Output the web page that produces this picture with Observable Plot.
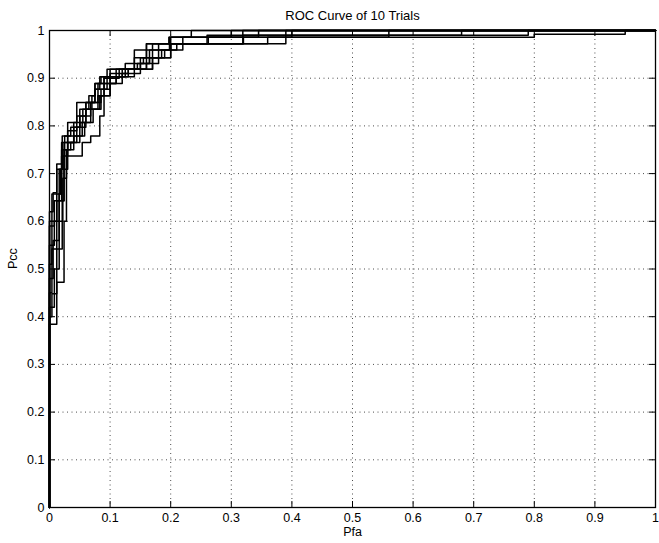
<!DOCTYPE html>
<html>
<head>
<meta charset="utf-8">
<script src="https://cdn.jsdelivr.net/npm/d3@7"></script>
<script src="https://cdn.jsdelivr.net/npm/@observablehq/plot@0.6"></script>
<style>
  html, body { margin: 0; padding: 0; background: #fff; }
  #chart { width: 659px; height: 543px; overflow: hidden; }
</style>
</head>
<body>
<div id="chart"></div>
<script>
// ---- Data ----
const title = "ROC Curve of 10 Trials";
const xLabel = "Pfa";
const yLabel = "Pcc";
const xTicks = [0, 0.1, 0.2, 0.3, 0.4, 0.5, 0.6, 0.7, 0.8, 0.9, 1];
const yTicks = [0, 0.1, 0.2, 0.3, 0.4, 0.5, 0.6, 0.7, 0.8, 0.9, 1];
const xTickLabels = ["0", "0.1", "0.2", "0.3", "0.4", "0.5", "0.6", "0.7", "0.8", "0.9", "1"];
const yTickLabels = ["0", "0.1", "0.2", "0.3", "0.4", "0.5", "0.6", "0.7", "0.8", "0.9", "1"];

// Each trial: step points [Pfa, Pcc] (Pcc jumps to the value at that Pfa)
const trial1 = [[0,0],[0,0.384],[0.012,0.472],[0.024,0.60],[0.028,0.737],[0.054,0.765],[0.068,0.779],[0.083,0.821],[0.09,0.877],[0.1,0.903],[0.125,0.919],[0.15,0.931],[0.165,0.959],[0.2,0.972],[0.39,1],[1,1]];
const trial2 = [[0,0],[0,0.40],[0.004,0.448],[0.012,0.542],[0.021,0.643],[0.024,0.709],[0.03,0.765],[0.045,0.779],[0.054,0.807],[0.068,0.835],[0.083,0.863],[0.1,0.889],[0.11,0.903],[0.14,0.919],[0.17,0.943],[0.2,0.959],[0.22,0.972],[0.32,0.986],[0.345,1],[1,1]];
const trial3 = [[0,0],[0,0.60],[0.004,0.657],[0.012,0.709],[0.021,0.779],[0.03,0.807],[0.045,0.849],[0.07,0.863],[0.075,0.877],[0.083,0.903],[0.095,0.919],[0.15,0.931],[0.16,0.972],[0.197,0.986],[0.234,1],[1,1]];
const trial4 = [[0,0],[0,0.51],[0.004,0.60],[0.012,0.657],[0.018,0.709],[0.024,0.765],[0.04,0.797],[0.05,0.821],[0.06,0.849],[0.075,0.889],[0.09,0.903],[0.11,0.919],[0.14,0.931],[0.155,0.943],[0.17,0.959],[0.2,0.972],[0.262,0.986],[0.3,1],[1,1]];
const trial5 = [[0,0],[0,0.45],[0.004,0.542],[0.012,0.60],[0.016,0.657],[0.02,0.709],[0.024,0.737],[0.03,0.779],[0.045,0.797],[0.06,0.821],[0.068,0.849],[0.085,0.877],[0.095,0.903],[0.12,0.919],[0.16,0.931],[0.165,0.943],[0.185,0.959],[0.21,0.972],[0.36,0.986],[0.56,1],[1,1]];
const trial6 = [[0,0],[0,0.59],[0.008,0.643],[0.016,0.709],[0.02,0.75],[0.03,0.765],[0.04,0.807],[0.055,0.835],[0.07,0.849],[0.08,0.889],[0.1,0.91],[0.13,0.919],[0.14,0.943],[0.16,0.972],[0.319,0.99],[0.68,1],[1,1]];
const trial7 = [[0,0],[0,0.55],[0.008,0.60],[0.012,0.643],[0.02,0.737],[0.025,0.779],[0.035,0.797],[0.05,0.835],[0.065,0.863],[0.075,0.889],[0.085,0.903],[0.1,0.919],[0.125,0.931],[0.14,0.959],[0.17,0.972],[0.2,0.986],[0.4,1],[1,1]];
const trial8 = [[0,0],[0,0.48],[0.006,0.56],[0.016,0.643],[0.024,0.75],[0.035,0.765],[0.05,0.807],[0.06,0.835],[0.08,0.863],[0.09,0.889],[0.11,0.903],[0.13,0.919],[0.16,0.931],[0.18,0.943],[0.2,0.972],[0.26,0.99],[0.79,1],[1,1]];
const trial9 = [[0,0],[0,0.62],[0.006,0.66],[0.012,0.72],[0.02,0.765],[0.03,0.79],[0.045,0.821],[0.06,0.849],[0.075,0.877],[0.09,0.9],[0.115,0.919],[0.145,0.931],[0.15,0.943],[0.18,0.972],[0.22,0.986],[0.8,0.992],[0.95,1],[1,1]];
const trial10 = [[0,0],[0,0.42],[0.008,0.50],[0.016,0.60],[0.022,0.69],[0.028,0.75],[0.04,0.779],[0.058,0.807],[0.072,0.835],[0.085,0.863],[0.1,0.889],[0.12,0.91],[0.15,0.919],[0.17,0.943],[0.19,0.959],[0.198,0.986],[0.319,1],[1,1]];

const trials = [trial1, trial2, trial3, trial4, trial5, trial6, trial7, trial8, trial9, trial10];
const rows = trials.flatMap((t, i) => t.map(([x, y]) => ({trial: i + 1, x, y})));

// ---- Layout ----
const W = 659, H = 543;
const mL = 49, mR = 4, mT = 30, mB = 36;
const innerW = W - mL - mR, innerH = H - mT - mB;
const tickLen = 6;
const gridVals = xTicks.slice(1, -1);
const gridValsY = yTicks.slice(1, -1);

const chart = Plot.plot({
  width: W,
  height: H,
  marginLeft: mL,
  marginRight: mR,
  marginTop: mT,
  marginBottom: mB,
  style: {fontFamily: "'Liberation Sans', Arial, Helvetica, sans-serif", fontSize: "12.5px", color: "black", background: "white"},
  x: {domain: [0, 1]},
  y: {domain: [0, 1]},
  marks: [
    // dotted grid
    Plot.ruleX(gridVals, {x: d => d, stroke: "black", strokeWidth: 1, strokeDasharray: "1,3.5", strokeOpacity: 0.7}),
    Plot.ruleY(gridValsY, {y: d => d, stroke: "black", strokeWidth: 1, strokeDasharray: "1,3.5", strokeOpacity: 0.7}),
    // ROC curves
    Plot.line(rows, {x: "x", y: "y", z: "trial", curve: "step-after", stroke: "black", strokeWidth: 1.5}),
    // frame
    Plot.frame({stroke: "black", strokeWidth: 1.3}),
    // inward ticks on all four sides
    Plot.ruleX(xTicks, {x: d => d, insetTop: innerH - tickLen, stroke: "black"}),
    Plot.ruleX(xTicks, {x: d => d, insetBottom: innerH - tickLen, stroke: "black"}),
    Plot.ruleY(yTicks, {y: d => d, insetRight: innerW - tickLen, stroke: "black"}),
    Plot.ruleY(yTicks, {y: d => d, insetLeft: innerW - tickLen, stroke: "black"}),
    // tick labels
    Plot.axisX({ticks: xTicks, tickSize: 0, tickPadding: 6, tickFormat: (d) => xTickLabels[xTicks.indexOf(d)], label: null, fontSize: 12.5}),
    Plot.axisY({ticks: yTicks, tickSize: 0, tickPadding: 5, tickFormat: (d) => yTickLabels[yTicks.indexOf(d)], label: null, fontSize: 12.5}),
    // title and axis labels
    Plot.text([title], {text: d => d, frameAnchor: "top", dy: -20, fontSize: 13}),
    Plot.text([xLabel], {text: d => d, frameAnchor: "bottom", dy: 28, fontSize: 12.5}),
    Plot.text([yLabel], {text: d => d, frameAnchor: "left", dx: -37, rotate: -90, fontSize: 12.5})
  ]
});

document.getElementById("chart").appendChild(chart);
</script>
</body>
</html>
